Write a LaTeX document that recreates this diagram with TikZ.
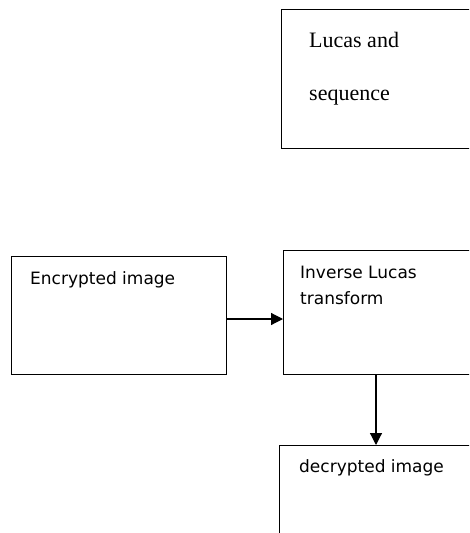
\documentclass[tikz,border=0pt]{standalone}
\usepackage{fontspec}
\setmainfont{Liberation Serif}
\newfontfamily\boxsans{DejaVu Sans}
\usetikzlibrary{arrows.meta}
\begin{document}
\begin{tikzpicture}[x=1pt,y=-1pt,
  block/.style={draw=black,line width=1.2pt,rectangle,inner sep=0pt,anchor=north west},
  lbl/.style={anchor=base west,inner sep=0pt,font=\boxsans\fontsize{17}{20}\selectfont},
  slbl/.style={anchor=base west,inner sep=0pt,font=\fontsize{22}{24}\selectfont},
  arr/.style={line width=1.2pt,-{Triangle[length=12pt,width=12pt]}}]
\useasboundingbox (0,0) rectangle (469,533);
\clip (0,0) rectangle (469,533);
% boxes
\node[block,minimum width=204pt,minimum height=139pt] (lucas) at (281,9) {};
\node[block,minimum width=215pt,minimum height=118pt] (enc) at (11,256) {};
\node[block,minimum width=200pt,minimum height=124pt] (inv) at (283,250) {};
\node[block,minimum width=204pt,minimum height=110pt] (dec) at (279,445) {};
% labels
\node[slbl] (t1) at (309,47) {Lucas and};
\node[slbl] (t2) at (309,100) {sequence};
\node[lbl] (t3) at (30,284) {Encrypted image};
\node[lbl] (t4) at (300,278) {Inverse Lucas};
\node[lbl] (t5) at (300,304) {transform};
\node[lbl] (t6) at (299,472) {decrypted image};
% connectors
\coordinate (ay) at (0,319);
\coordinate (ax) at (376,0);
\draw[arr] (enc.east |- ay) -- (inv.west |- ay);
\draw[arr] (inv.south -| ax) -- (dec.north -| ax);
\end{tikzpicture}
\end{document}
